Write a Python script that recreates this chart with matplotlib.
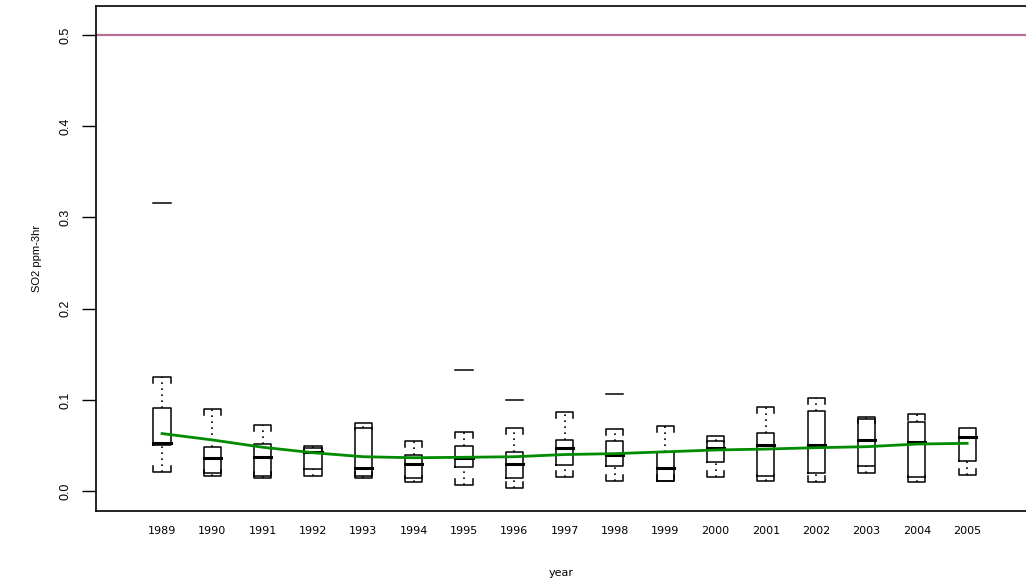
import matplotlib
matplotlib.use("Agg")
import matplotlib.pyplot as plt

# годы и статистики боксплотов
years = [1989, 1990, 1991, 1992, 1993, 1994, 1995, 1996, 1997,
         1998, 1999, 2000, 2001, 2002, 2003, 2004, 2005]
whisk_hi = [0.125, 0.0895, 0.072, 0.0497, 0.075, 0.0548, 0.065, 0.0694, 0.087,
            0.068, 0.071, 0.060, 0.0925, 0.1023, 0.0811, 0.0848, 0.0694]
q3 = [0.091, 0.0486, 0.0512, 0.0475, 0.069, 0.0398, 0.0497, 0.0424, 0.0559,
      0.0548, 0.0424, 0.0548, 0.064, 0.0877, 0.0786, 0.0753, 0.0694]
median = [0.053, 0.0365, 0.0376, 0.043, 0.0256, 0.0293, 0.0358, 0.0293, 0.0468,
          0.0395, 0.0256, 0.0468, 0.0508, 0.0508, 0.0556, 0.0537, 0.0589]
q1 = [0.050, 0.0194, 0.0168, 0.024, 0.0168, 0.0146, 0.0263, 0.0146, 0.0285,
      0.027, 0.0112, 0.0315, 0.0168, 0.0197, 0.0278, 0.0157, 0.0326]
whisk_lo = [0.0205, 0.0168, 0.0146, 0.0168, 0.0146, 0.0095, 0.0066, 0.0036, 0.015,
            0.0113, 0.011, 0.0157, 0.011, 0.0099, 0.0197, 0.0099, 0.0175]
outlier_years = [1989, 1995, 1996, 1998]
outlier_vals = [0.316, 0.1327, 0.0998, 0.1064]
# сглаженная линия тренда
trend = [0.063, 0.056, 0.048, 0.042, 0.0376, 0.0365, 0.037, 0.0376, 0.040,
         0.041, 0.043, 0.045, 0.046, 0.0475, 0.0486, 0.0515, 0.0523]
standard = 0.5

plt.rcParams['font.family'] = ['Liberation Sans', 'DejaVu Sans']

fig = plt.figure(figsize=(10.26, 5.83), dpi=100)
ax = fig.add_axes([0.0936, 0.1235, 0.9064, 0.8662])

pos = list(range(1, len(years) + 1))
hw = 0.17      # полширины бокса
tick = 0.0066  # длина "ушек" на скобках
lw = 1.1

for i, p in enumerate(pos):
    # бокс
    ax.plot([p - hw, p + hw, p + hw, p - hw, p - hw],
            [q1[i], q1[i], q3[i], q3[i], q1[i]], color='black', lw=lw)
    ax.plot([p - hw, p + hw], [median[i], median[i]], color='black', lw=2.2)
    # усы пунктиром
    if whisk_hi[i] > q3[i]:
        ax.plot([p, p], [q3[i], whisk_hi[i]], color='black', lw=1.2,
                linestyle=(0, (1, 2.6)))
        ax.plot([p - hw, p - hw, p + hw, p + hw],
                [whisk_hi[i] - tick, whisk_hi[i], whisk_hi[i], whisk_hi[i] - tick],
                color='black', lw=lw)
    if whisk_lo[i] < q1[i]:
        ax.plot([p, p], [whisk_lo[i], q1[i]], color='black', lw=1.2,
                linestyle=(0, (1, 2.6)))
        ax.plot([p - hw, p - hw, p + hw, p + hw],
                [whisk_lo[i] + tick, whisk_lo[i], whisk_lo[i], whisk_lo[i] + tick],
                color='black', lw=lw)

# выбросы короткими черточками
for y, v in zip(outlier_years, outlier_vals):
    p = years.index(y) + 1
    ax.plot([p - hw, p + hw], [v, v], color='black', lw=lw)

ax.plot(pos, trend, color='#008b00', lw=2)
ax.axhline(standard, color='#b86e94', lw=1.6)

ax.set_xlim(1 - 1.312, 17 + 1.17)
ax.set_ylim(-0.0219, 0.5318)
ax.set_xticks(pos)
ax.set_xticklabels([str(y) for y in years], fontsize=8, family=['DejaVu Sans'])
ax.tick_params(axis='x', length=0, pad=11)
ax.set_yticks([0.0, 0.1, 0.2, 0.3, 0.4, 0.5])
ax.set_yticklabels(['0.0', '0.1', '0.2', '0.3', '0.4', '0.5'], rotation=90,
                   va='center', fontsize=9)
ax.tick_params(axis='y', length=10, width=1, pad=8)
ax.set_xlabel('year', fontsize=8, labelpad=23, family=['DejaVu Sans'])
ax.set_ylabel('SO2 ppm-3hr', fontsize=8, labelpad=12)
ax.spines['right'].set_visible(False)
for s in ['left', 'bottom', 'top']:
    ax.spines[s].set_linewidth(1.2)

plt.savefig('out.png', dpi=100)
plt.close()
